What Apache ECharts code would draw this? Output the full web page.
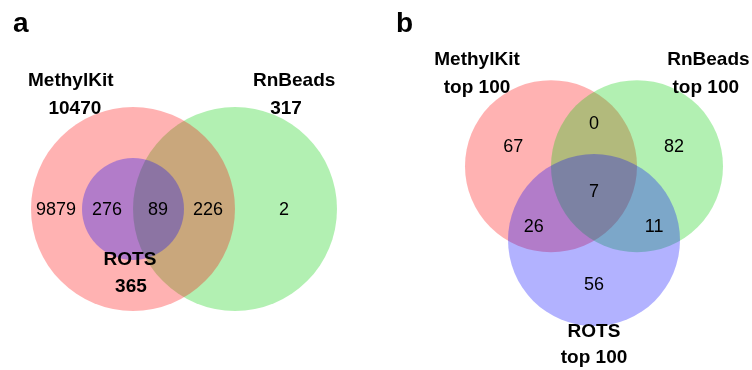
<!DOCTYPE html>
<html>
<head>
<meta charset="utf-8">
<script src="https://cdn.jsdelivr.net/npm/echarts@6/dist/echarts.min.js"></script>
<style>
  html, body { margin: 0; padding: 0; background: #fff; }
  #chart { width: 752px; height: 370px; }
</style>
</head>
<body>
<div id="chart"></div>
<script>
// ---- Data -------------------------------------------------------------
// Panel a: all DMRs found by each tool
const setNamesA = ['MethylKit', 'RnBeads', 'ROTS'];
const setTotalsA = [10470, 317, 365];
// regions left to right: MethylKit only, MethylKit∩ROTS, all three, MethylKit∩RnBeads, RnBeads only
const regionCountsA = [9879, 276, 89, 226, 2];

// Panel b: top 100 DMRs of each tool
const setNamesB = ['MethylKit', 'RnBeads', 'ROTS'];
const setSubtitleB = ['top 100', 'top 100', 'top 100'];
// regions: M only, M∩R, R only, all three, M∩ROTS, R∩ROTS, ROTS only
const regionCountsB = [67, 0, 82, 7, 26, 11, 56];

// ---- Layout (diagram units) -------------------------------------------
const circleColors = ['rgb(255,0,0)', 'rgb(0,205,0)', 'rgb(0,0,255)'];
const circleOpacity = 0.3;

// circles: [cx, cy, r, colour index], painted in array order
const layoutA = {
  circles: [[2, 0, 2, 1], [0, 0, 2, 0], [0, 0, 1, 2]],
  regionPos: [[-1.51, -0.03], [-0.51, -0.03], [0.49, -0.03], [1.47, -0.03], [2.96, -0.03]],
  namePos: [[-1.22, 2.51], [3.16, 2.51], [-0.06, -1.0]],
  totalPos: [[-1.14, 1.96], [3.0, 1.96], [-0.04, -1.53]]
};

const layoutB = {
  circles: [[-0.5, 0.2887, 1, 0], [0.5, 0.2887, 1, 1], [0, -0.5774, 1, 2]],
  regionPos: [[-0.94, 0.515], [0, 0.78], [0.93, 0.515], [0, -0.01], [-0.70, -0.427], [0.70, -0.427], [0, -1.10]],
  namePos: [[-1.36, 1.537], [1.33, 1.537], [0, -1.648]],
  totalPos: [[-1.36, 1.21], [1.30, 1.21], [0, -1.96]]
};

const FONT = '"Liberation Sans", Arial, sans-serif';

function circleSeries(layout, axisIndex) {
  return {
    type: 'custom',
    xAxisIndex: axisIndex, yAxisIndex: axisIndex,
    silent: true,
    data: layout.circles,
    renderItem: function (params, api) {
      const p = api.coord([api.value(0), api.value(1)]);
      const r = api.size([api.value(2), 0])[0];
      return {
        type: 'circle',
        shape: { cx: p[0], cy: p[1], r: r },
        style: { fill: circleColors[api.value(3)], opacity: circleOpacity }
      };
    }
  };
}

function textSeries(texts, positions, bold, axisIndex) {
  return {
    type: 'custom',
    xAxisIndex: axisIndex, yAxisIndex: axisIndex,
    silent: true,
    data: positions.map((p, i) => [p[0], p[1], i]),
    renderItem: function (params, api) {
      const p = api.coord([api.value(0), api.value(1)]);
      return {
        type: 'text',
        x: p[0], y: p[1],
        style: {
          text: String(texts[api.value(2)]),
          fill: '#000',
          fontSize: bold ? 19 : 18,
          fontWeight: bold ? 'bold' : 'normal',
          fontFamily: FONT,
          align: 'center',
          verticalAlign: 'middle'
        }
      };
    }
  };
}

const hiddenAxis = { type: 'value', show: false, splitLine: { show: false } };

const option = {
  animation: false,
  backgroundColor: '#fff',
  title: [
    { text: 'a', left: 8, top: 5, textStyle: { fontSize: 28, fontWeight: 'bold', fontFamily: FONT, color: '#000' } },
    { text: 'b', left: 391, top: 5, textStyle: { fontSize: 28, fontWeight: 'bold', fontFamily: FONT, color: '#000' } }
  ],
  grid: [
    { left: 5.5, top: 5, width: 357, height: 357 },
    { left: 422, top: 3.1, width: 326.8, height: 369.8 }
  ],
  xAxis: [
    Object.assign({ gridIndex: 0, min: -2.5, max: 4.5 }, hiddenAxis),
    Object.assign({ gridIndex: 1, min: -2, max: 1.8 }, hiddenAxis)
  ],
  yAxis: [
    Object.assign({ gridIndex: 0, min: -3, max: 4 }, hiddenAxis),
    Object.assign({ gridIndex: 1, min: -2.1, max: 2.2 }, hiddenAxis)
  ],
  series: [
    circleSeries(layoutA, 0),
    textSeries(regionCountsA, layoutA.regionPos, false, 0),
    textSeries(setNamesA, layoutA.namePos, true, 0),
    textSeries(setTotalsA, layoutA.totalPos, true, 0),
    circleSeries(layoutB, 1),
    textSeries(regionCountsB, layoutB.regionPos, false, 1),
    textSeries(setNamesB, layoutB.namePos, true, 1),
    textSeries(setSubtitleB, layoutB.totalPos, true, 1)
  ]
};

const chart = echarts.init(document.getElementById('chart'), null, { renderer: 'canvas' });
chart.setOption(option);
</script>
</body>
</html>
